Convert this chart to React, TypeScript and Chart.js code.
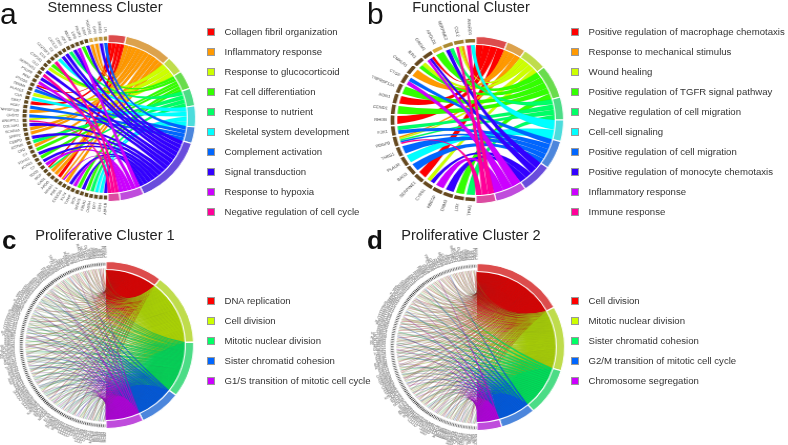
import React, { useEffect, useRef } from "react";
import { Chart, registerables } from "chart.js";

Chart.register(...registerables);

const rainbow10 = ["#FF0000","#FF9900","#CCFF00","#33FF00","#00FF66","#00FFFF","#0066FF","#3300FF","#CC00FF","#FF0099"];
const rainbow5 = ["#FF0000","#CCFF00","#00FF66","#0066FF","#CC00FF"];

const aTerms = ["Collagen fibril organization","Inflammatory response","Response to glucocorticoid","Fat cell differentiation","Response to nutrient","Skeletal system development","Complement activation","Signal transduction","Response to hypoxia","Negative regulation of cell cycle"];
const aSizes = [12,32,12,13,12.4,14.6,11.6,48,16,8];
const aGenes = ["ADH1B","CD34","DPT","CH25H","FBLN1","MFAP5","DCN","TXNIP","KLF4","CCDC80","PDK4","NR4A1","APOD","GAS1","MGP","SOD2","C7","ACKR3","FOXO1","C3","CFD","GSTM5","CEBPD","SFRP2","SCARA5","COL14A1","ANGPTL1","CHST2","TNFRSF11B","FGF7","CBX7","C1R","PLA2G5","TENM4","PTGDS","PAM","PTGFR","SERPING1","CLU","CYP1B1","C1S","C1QTNF3","C2","CXCL12","CD55","IGF1","ABCA8","LIFR","PIK3R1","IL6ST","HSD11B1","GHR","SMAD3","LPL"];
const aLinks = ["7","5","5","4","3","7","3","8","7","1",
  "18","0","1","1","04","8","7","3","7","3",
  "1","4","7","1","1","7","29","6","1","6",
  "0","5","2","6","07","8","7","9","7","2",
  "3","9","5","7","7","4","7","8","3","7",
  "1","1","7","6"];

const bTerms = ["Positive regulation of macrophage chemotaxis","Response to mechanical stimulus","Wound healing","Positive regulation of TGFR signal pathway","Negative regulation of cell migration","Cell-cell signaling","Positive regulation of cell migration","Positive regulation of monocyte chemotaxis","Inflammatory response","Immune response"];
const bSizes = [21,13,16.6,23.4,16,15,20,20.7,21,13.3];
const bGenes = ["TPM1","LOX","DNM3","HBEGF","CYR61","SERPINE1","BAG3","PLAUR","THBS1","PDGFB","FJX1","RHOB","CCND1","EDN1","TNFRSF12A","CTGF","CMKLR1","IER3","GREM1","APOLD1","SERPINE2","CCL2","ANKRD1"];
const bLinks = ["4","3","7","8","72","0","6","5","6","96421","46","0","3","0","3","86","1","32","087","3","74","921","95"];

const cTerms = ["DNA replication","Cell division","Mitotic nuclear division","Sister chromatid cohesion","G1/S transition of mitotic cell cycle"];
const cSizes = [38,50,39,28,25];
const cGenes = ["MCM2","MCM3","MCM4","MCM5","MCM6","MCM7","MCM10","CDC6","CDC7","CDC20",
  "CDC25A","CDC25B","CDC25C","CDC45","CDK1","CDK2","CCNA2","CCNB1","CCNB2","CCNE1",
  "CCNE2","CCNF","BUB1","BUB1B","BUB3","AURKA","AURKB","PLK1","PLK4","TTK",
  "NDC80","NUF2","SPC24","SPC25","KNL1","KNSTRN","ZWINT","CENPA","CENPE","CENPF",
  "CENPH","CENPI","CENPK","CENPM","CENPN","CENPU","CENPW","KIF11","KIF14","KIF15",
  "KIF18A","KIF18B","KIF20A","KIF23","KIF2C","KIF4A","KIF22","TOP2A","TPX2","UBE2C",
  "PTTG1","ESPL1","NCAPD2","NCAPD3","NCAPG","NCAPG2","NCAPH","NCAPH2","SMC2","SMC4",
  "SGO1","SGO2","HJURP","INCENP","BIRC5","CDCA2","CDCA3","CDCA5","CDCA8","DSCC1",
  "ESCO2","RAD21","STAG1","PDS5A","WAPL","RRM1","RRM2","PCNA","POLA1","POLE",
  "POLE2","POLD1","POLD3","GINS1","GINS2","GINS3","GINS4","RFC2","RFC3","RFC4",
  "RFC5","FEN1","LIG1","RPA1","RPA2","RPA3","PRIM1","PRIM2","TYMS","DHFR",
  "E2F1","CLSPN","TIMELESS","CHEK1","ORC1","ORC6","CDT1","GMNN","MAD2L1","CKS1B",
  "CKS2","ANLN","ECT2","PRC1","RACGAP1","NUSAP1","TACC3","DLGAP5","ASPM","CEP55",
  "HMMR","MKI67","SKA1","SKA3","FOXM1","MYBL2"];
const cLinks = ["4","12","3","04","2","1","123","0","24","13",
  "4","2","03","1","12","4","3","0","123","2",
  "14","04","2","13","0","3","12","4","2","1",
  "023","4","12","0","3","1","24","2","13","04",
  "1","2","123","3","0","12","4","13","2","03",
  "1","24","0","12","3","2","14","0","123","2",
  "1","3","04","12","2","1","0","13","24","1",
  "2","0","123","4","1","3","12","04","2","1",
  "13","0","2","12","04","1","3","2","14","0",
  "12","3","1","04","2","123","1","0","3","12",
  "0","1","24","04","2","1","0","13","1","0",
  "12","04","2","1","0","3","0","12","1","04",
  "0","2","1","0","04","12","0","1","0","01",
  "0","1","04","0","0","1"];

const dTerms = ["Cell division","Mitotic nuclear division","Sister chromatid cohesion","G2/M transition of mitotic cell cycle","Chromosome segregation"];
const dSizes = [61.5,45,33.5,23.5,16.5];
const dExtraGenes = ["CDKN3","NEK2","PBK","MELK","SHCBP1","STIL","GTSE1","TROAP","DEPDC1","KIFC1","CKAP2","ARHGAP11A","FAM83D","ERCC6L"];
const dGenes = [...dExtraGenes, ...cGenes];
const dLinks = ["3","01","2","4","01","0","1","23","01","4",
  "2","0","01","3","14","1","0","2","01","3",
  "0","14","1","2","01","03","4","1","0","12",
  "01","3","2","0","14","1","01","23","0","1",
  "4","01","2","0","13","1","01","2","0","4",
  "01","3","1","02","0","14","1","23","01","0",
  "2","1","03","01","4","0","1","2","01","3",
  "0","12","01","4","1","0","03","2","01","1",
  "0","3","14","01","2","0","1","01","3","0",
  "12","0","01","1","4","0","2","01","3","1",
  "0","01","2","0","1","04","01","0","3","1",
  "01","0","2","1","0","01","3","0","1","01",
  "0","2","0","01","1","0","4","01","0","1",
  "0","01","0","3","1","0","01","0","1","0",
  "01","0","1","0","01","0","0","1","0","0"];

type PanelDef = {
  letter: string; letterX: number; letterY: number; letterSize: number; letterWeight: number; title: string; titleX: number; titleY: number;
  cx: number; cy: number; legendX: number; legendY: number;
  terms: string[]; sizes: number[]; colors: string[]; genes: string[]; links: string[];
  dense: boolean; labelFont: string; labelColor: string; topShades: string[]; baseShade: string;
};

const panels: PanelDef[] = [
  { letter:"a", letterX:0, letterY:-1, letterSize:30, letterWeight:400, title:"Stemness Cluster", titleX:105, titleY:7, cx:108, cy:118, legendX:207, legendY:32,
    terms:aTerms, sizes:aSizes, colors:rainbow10, genes:aGenes, links:aLinks, dense:false, labelFont:"3.5px", labelColor:"#3c3c3c",
    topShades:["#d8ad4c","#cfa445","#bd9539","#a88535"], baseShade:"#614b20" },
  { letter:"b", letterX:367, letterY:-1, letterSize:30, letterWeight:400, title:"Functional Cluster", titleX:471, titleY:7, cx:475.5, cy:120, legendX:571, legendY:32,
    terms:bTerms, sizes:bSizes, colors:rainbow10, genes:bGenes, links:bLinks, dense:false, labelFont:"4.1px", labelColor:"#3c3c3c",
    topShades:["#d8aa38","#ab8a32","#a0822f","#8c6f28"], baseShade:"#66491f" },
  { letter:"c", letterX:2, letterY:225, letterSize:26, letterWeight:700, title:"Proliferative Cluster 1", titleX:105, titleY:235, cx:106, cy:345, legendX:207, legendY:301,
    terms:cTerms, sizes:cSizes, colors:rainbow5, genes:cGenes, links:cLinks, dense:true, labelFont:"bold 3.6px", labelColor:"#8e8e8e",
    topShades:[], baseShade:"#3a3a3a" },
  { letter:"d", letterX:367, letterY:225, letterSize:26, letterWeight:700, title:"Proliferative Cluster 2", titleX:471, titleY:235, cx:477, cy:346.5, legendX:571, legendY:301,
    terms:dTerms, sizes:dSizes, colors:rainbow5, genes:dGenes, links:dLinks, dense:true, labelFont:"bold 3.6px", labelColor:"#8e8e8e",
    topShades:[], baseShade:"#3a3a3a" },
];

const HALF = 110;
const STRETCH = 1.05;
const R_OUT = 83.5;
const R_TERM_IN = 75.5;

function rgb(hex: string) {
  return [parseInt(hex.slice(1,3),16), parseInt(hex.slice(3,5),16), parseInt(hex.slice(5,7),16)];
}
function ringColor(hex: string) {
  const [r,g,b] = rgb(hex).map(c => Math.round(76 + c * 144 / 255));
  return `rgb(${r},${g},${b})`;
}

function chordPlugin(p: PanelDef) {
  const geneIn = p.dense ? 79 : 77;
  const geneOut = p.dense ? 82.5 : 82;
  const ribbonEnd = p.dense ? 76.5 : 75;
  const inset = p.dense ? 0.3 : 0.12;
  const pull = p.dense ? 0.4 : 0.12;
  return {
    id: "chord",
    beforeDatasetsDraw(chart: any) {
      const termArcs = chart.getDatasetMeta(0).data;
      const geneArcs = chart.getDatasetMeta(1).data.slice(1);
      termArcs.forEach((el: any) => { el.innerRadius = R_TERM_IN; el.outerRadius = R_OUT; });
      chart.getDatasetMeta(1).data.forEach((el: any) => { el.innerRadius = geneIn; el.outerRadius = geneOut; });
      const ctx = chart.ctx;
      const x = termArcs[0].x, y = termArcs[0].y;
      const pt = (r: number, a: number) => [x + r * Math.cos(a), y + r * Math.sin(a)];
      const path = (t0: number, t1: number, g0: number, g1: number) => {
        const [gx0, gy0] = pt(ribbonEnd, g0);
        const [tx1, ty1] = pt(R_TERM_IN, t1);
        const [gx1, gy1] = pt(ribbonEnd, g1);
        const [tx0, ty0] = pt(R_TERM_IN, t0);
        ctx.beginPath();
        ctx.arc(x, y, R_TERM_IN, t0, t1);
        ctx.quadraticCurveTo(x + pull * ((tx1 + gx0) / 2 - x), y + pull * ((ty1 + gy0) / 2 - y), gx0, gy0);
        ctx.arc(x, y, ribbonEnd, g0, g1);
        ctx.quadraticCurveTo(x + pull * ((tx0 + gx1) / 2 - x), y + pull * ((ty0 + gy1) / 2 - y), tx0, ty0);
        ctx.closePath();
      };
      ctx.save();
      if (p.dense) {
        p.terms.forEach((_t, t) => {
          const arc = termArcs[t];
          const [cr, cg, cb] = rgb(p.colors[t]).map(c => Math.round(c * 0.88));
          const fade = ctx.createRadialGradient(x, y, 20, x, y, R_TERM_IN);
          fade.addColorStop(0, `rgba(${cr},${cg},${cb},0)`);
          fade.addColorStop(0.32, `rgba(${cr},${cg},${cb},0.65)`);
          fade.addColorStop(0.5, `rgba(${cr},${cg},${cb},1)`);
          fade.addColorStop(1, `rgba(${cr},${cg},${cb},1)`);
          ctx.beginPath();
          ctx.moveTo(x, y);
          ctx.arc(x, y, R_TERM_IN, arc.startAngle, arc.endAngle);
          ctx.closePath();
          ctx.fillStyle = fade;
          ctx.fill();
        });
      }
      p.terms.forEach((_t, t) => {
        const members: number[] = [];
        p.links.forEach((l, j) => { if (l.includes(String(t))) members.push(j); });
        members.reverse();
        const arc = termArcs[t];
        const step = (arc.endAngle - arc.startAngle) / Math.max(members.length, 1);
        const [cr, cg, cb] = rgb(p.colors[t]).map(c => Math.round(c * 0.88));
        members.forEach((j, i) => {
          const g = geneArcs[j];
          const own = p.links[j].split("").map(Number).sort((a, b) => b - a);
          const width = g.endAngle - g.startAngle;
          const g0 = g.startAngle + width * inset;
          const gs = (width * (1 - 2 * inset)) / own.length;
          const k = own.indexOf(t);
          const t0 = arc.startAngle + i * step, t1 = t0 + step;
          path(t0, t1, g0 + k * gs, g0 + (k + 1) * gs);
          if (p.dense) {
            const tm = (t0 + t1) / 2, gm = g0 + (k + 0.5) * gs;
            const [ax, ay] = pt(R_TERM_IN, tm);
            const [bx, by] = pt(ribbonEnd, gm);
            const grad = ctx.createLinearGradient(ax, ay, bx, by);
            grad.addColorStop(0, `rgba(${cr},${cg},${cb},1)`);
            grad.addColorStop(0.42, `rgba(${cr},${cg},${cb},0.85)`);
            grad.addColorStop(0.62, `rgba(${cr},${cg},${cb},0.45)`);
            grad.addColorStop(1, `rgba(${cr},${cg},${cb},0.3)`);
            ctx.fillStyle = grad;
          } else {
            ctx.fillStyle = p.colors[t];
          }
          ctx.fill();
          ctx.lineWidth = 0.25;
          ctx.strokeStyle = p.dense ? "rgba(70,70,70,0.42)" : "rgba(0,0,0,0.15)";
          ctx.stroke();
        });
      });
      ctx.restore();
    },
    afterDatasetsDraw(chart: any) {
      const geneArcs = chart.getDatasetMeta(1).data.slice(1);
      const ctx = chart.ctx;
      ctx.save();
      ctx.font = `${p.labelFont} "Liberation Sans"`;
      ctx.fillStyle = p.labelColor;
      ctx.textAlign = "right";
      ctx.textBaseline = "middle";
      geneArcs.forEach((g: any, j: number) => {
        const a = (g.startAngle + g.endAngle) / 2;
        const r = p.dense ? 87 : 85;
        ctx.save();
        ctx.translate(g.x + r * Math.cos(a), g.y + r * Math.sin(a));
        ctx.rotate(a + Math.PI);
        ctx.fillText(p.genes[j], 0, 0);
        ctx.restore();
      });
      ctx.restore();
    },
  };
}

function Panel({ p }: { p: PanelDef }) {
  const ref = useRef<HTMLCanvasElement | null>(null);
  useEffect(() => {
    const n = p.genes.length;
    const topFrom = n - p.topShades.length;
    const geneColors = p.genes.map((_g, j) => (j >= topFrom ? p.topShades[j - topFrom] : p.baseShade));
    const termTotal = p.sizes.reduce((s, v) => s + v, 0);
    const chart = new Chart(ref.current as HTMLCanvasElement, {
      type: "doughnut",
      data: {
        labels: [...p.terms, "genes"],
        datasets: [
          {
            data: [...p.sizes, termTotal],
            backgroundColor: [...p.colors.map(ringColor), "rgba(0,0,0,0)"],
            borderColor: "#ffffff",
            borderWidth: [...p.sizes.map(() => 1.1), 0],
          },
          {
            data: [n, ...p.genes.map(() => 1)],
            backgroundColor: ["rgba(0,0,0,0)", ...geneColors],
            borderColor: "#ffffff",
            borderWidth: [0, ...p.genes.map(() => (p.dense ? 0.9 : n > 30 ? 1.1 : 1.4))],
          },
        ],
      } as any,
      options: {
        responsive: false,
        maintainAspectRatio: false,
        animation: false,
        events: [],
        rotation: 0,
        circumference: 360,
        layout: { padding: HALF - R_OUT },
        plugins: { legend: { display: false }, tooltip: { enabled: false }, title: { display: false } },
      } as any,
      plugins: [chordPlugin(p) as any],
    });
    return () => chart.destroy();
  }, [p]);

  return (
    <>
      <div style={{ position: "absolute", left: p.cx - HALF, top: p.cy - HALF, width: HALF * 2, height: HALF * 2, transform: `scaleX(${STRETCH})`, transformOrigin: "50% 50%" }}>
        <canvas ref={ref} width={HALF * 2} height={HALF * 2} style={{ display: "block" }} />
      </div>
      <div style={{ position: "absolute", left: p.letterX, top: p.letterY, fontSize: p.letterSize, fontWeight: p.letterWeight, lineHeight: "30px", color: "#111" }}>{p.letter}</div>
      <div style={{ position: "absolute", left: p.titleX - 100, top: p.titleY - 10, width: 200, textAlign: "center", fontSize: 14.6, lineHeight: "20px", color: "#222" }}>{p.title}</div>
      {p.terms.map((t, i) => (
        <React.Fragment key={t}>
          <div style={{ position: "absolute", left: p.legendX, top: p.legendY + i * 19.95 - 4, width: 8, height: 8, boxSizing: "border-box", background: p.colors[i], border: "0.5px solid #999" }} />
          <div style={{ position: "absolute", left: p.legendX + 17.5, top: p.legendY + i * 19.95 - 7, fontSize: 9.6, lineHeight: "14px", color: "#333", whiteSpace: "nowrap" }}>{t}</div>
        </React.Fragment>
      ))}
    </>
  );
}

export default function App() {
  return (
    <div style={{ position: "absolute", left: 0, top: 0, width: 788, height: 445, overflow: "hidden", background: "#fff", fontFamily: '"Liberation Sans", Arial, sans-serif' }}>
      {panels.map(p => <Panel key={p.letter} p={p} />)}
    </div>
  );
}
